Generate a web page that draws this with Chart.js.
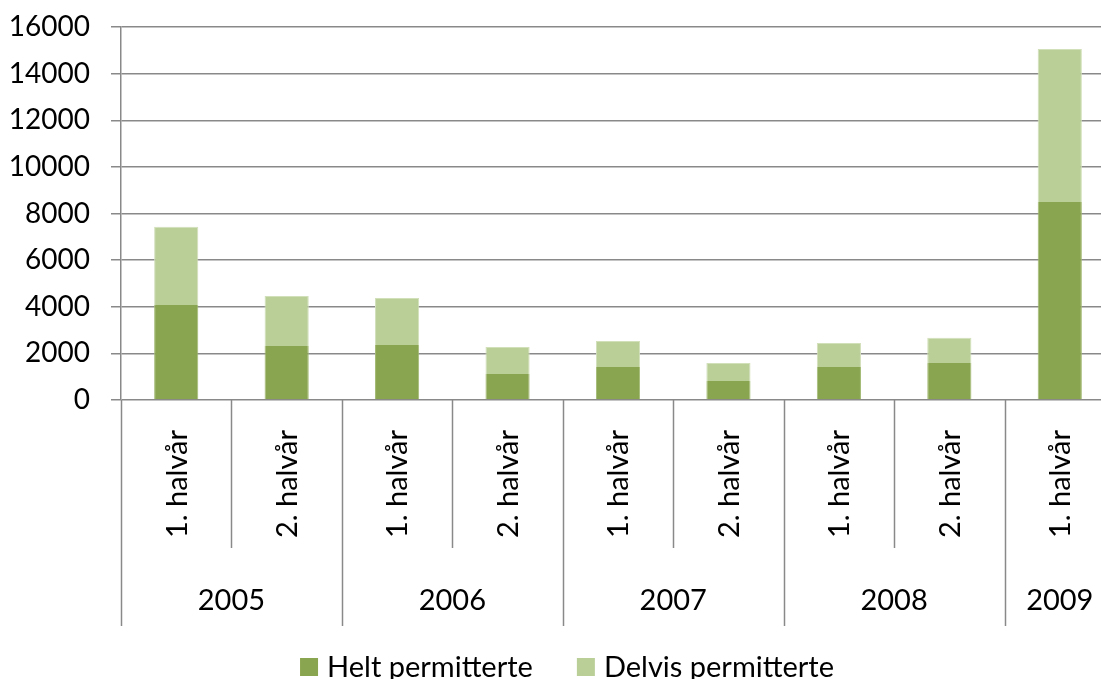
<!DOCTYPE html>
<html lang="no">
<head>
    <meta charset="UTF-8">
    <title>Permitterte per halvår</title>
    <script src="https://cdn.jsdelivr.net/npm/chart.js"></script>
    <style>
        html, body {
            margin: 0;
            padding: 0;
            background: #fff;
            overflow: hidden;
        }
        #wrap {
            width: 1134px;
            height: 679px;
        }
    </style>
</head>
<body>
    <div id="wrap"><canvas id="chart" width="1134" height="679"></canvas></div>

    <script>
        // data
        const halves = ['1. halvår', '2. halvår', '1. halvår', '2. halvår', '1. halvår', '2. halvår', '1. halvår', '2. halvår', '1. halvår'];
        const years = ['2005', '2005', '2006', '2006', '2007', '2007', '2008', '2008', '2009'];
        const helt = [4075, 2320, 2360, 1115, 1415, 815, 1415, 1590, 8495];
        const delvis = [3360, 2140, 2015, 1155, 1115, 770, 1030, 1085, 6560];
        const yMin = 0, yMax = 16000, yStep = 2000;

        const FONT = '29px Lato, "Open Sans", sans-serif';
        const LINE = '#898989';

        // draws the two-level category axis and the legend
        const groupAxis = {
            id: 'groupAxis',
            afterDraw(chart) {
                const ctx = chart.ctx;
                const area = chart.chartArea;
                const x = chart.scales.x;
                const n = halves.length;
                const half = (x.getPixelForValue(1) - x.getPixelForValue(0)) / 2;
                const top = area.bottom;
                const midY = top + 148;
                const endY = top + 226;
                const edge = i => i < n ? x.getPixelForValue(i) - half : x.getPixelForValue(n - 1) + half;

                ctx.save();
                ctx.strokeStyle = LINE;
                ctx.lineWidth = 1.5;
                for (let i = 0; i <= n; i++) {
                    const brk = i === 0 || i === n || years[i] !== years[i - 1];
                    const px = Math.round(edge(i)) + 0.5;
                    ctx.beginPath();
                    ctx.moveTo(px, top);
                    ctx.lineTo(px, brk ? endY : midY);
                    ctx.stroke();
                }

                ctx.font = FONT;
                ctx.fillStyle = '#000';
                ctx.textAlign = 'center';
                ctx.textBaseline = 'middle';
                halves.forEach((t, i) => {
                    ctx.save();
                    ctx.translate(x.getPixelForValue(i) + 1, top + 84);
                    ctx.rotate(-Math.PI / 2);
                    ctx.fillText(t, 0, 0);
                    ctx.restore();
                });

                let start = 0;
                for (let i = 1; i <= n; i++) {
                    if (i === n || years[i] !== years[start]) {
                        ctx.fillText(years[start], (edge(start) + edge(i)) / 2, top + 201);
                        start = i;
                    }
                }

                // legend
                const ds = chart.data.datasets;
                const box = 18, gapText = 9, gapItem = 44;
                const widths = ds.map(d => ctx.measureText(d.label).width);
                let total = 0;
                widths.forEach((w, i) => { total += box + gapText + w + (i < ds.length - 1 ? gapItem : 0); });
                let lx = chart.width / 2 - total / 2;
                const ly = 667;
                ctx.textAlign = 'left';
                ds.forEach((d, i) => {
                    ctx.fillStyle = d.backgroundColor;
                    ctx.fillRect(lx, ly - box / 2, box, box);
                    ctx.fillStyle = '#000';
                    ctx.fillText(d.label, lx + box + gapText, ly + 1);
                    lx += box + gapText + widths[i] + gapItem;
                });
                ctx.restore();
            }
        };

        new Chart(document.getElementById('chart'), {
            type: 'bar',
            data: {
                labels: halves,
                datasets: [
                    {
                        label: 'Helt permitterte',
                        data: helt,
                        backgroundColor: '#8aa54f',
                        borderColor: '#a3ba75',
                        borderWidth: { left: 1, right: 1, top: 0, bottom: 0 }
                    },
                    {
                        label: 'Delvis permitterte',
                        data: delvis,
                        backgroundColor: '#bacf98',
                        borderColor: '#d2e0ba',
                        borderWidth: { left: 1, right: 1, top: 1, bottom: 0 }
                    }
                ]
            },
            options: {
                responsive: false,
                animation: false,
                devicePixelRatio: 1,
                layout: {
                    padding: { top: 27, left: 0, right: 19, bottom: 53 }
                },
                datasets: {
                    bar: {
                        barPercentage: 0.4,
                        categoryPercentage: 1
                    }
                },
                scales: {
                    x: {
                        stacked: true,
                        grid: { display: false },
                        border: { display: false },
                        ticks: { display: false },
                        afterFit: scale => { scale.height = 226; }
                    },
                    y: {
                        stacked: true,
                        min: yMin,
                        max: yMax,
                        ticks: {
                            stepSize: yStep,
                            padding: 21,
                            color: '#000',
                            font: { family: 'Lato, "Open Sans", sans-serif', size: 28 },
                            callback: v => String(v)
                        },
                        grid: {
                            color: LINE,
                            lineWidth: 1.5,
                            tickLength: 10
                        },
                        border: { display: true, color: LINE, width: 1.5 },
                        afterFit: scale => {
                            scale.width = 121;
                            scale.paddingTop = 0;
                            scale.paddingBottom = 0;
                        }
                    }
                },
                plugins: {
                    legend: { display: false },
                    tooltip: { enabled: false }
                }
            },
            plugins: [groupAxis]
        });
    </script>
</body>
</html>
